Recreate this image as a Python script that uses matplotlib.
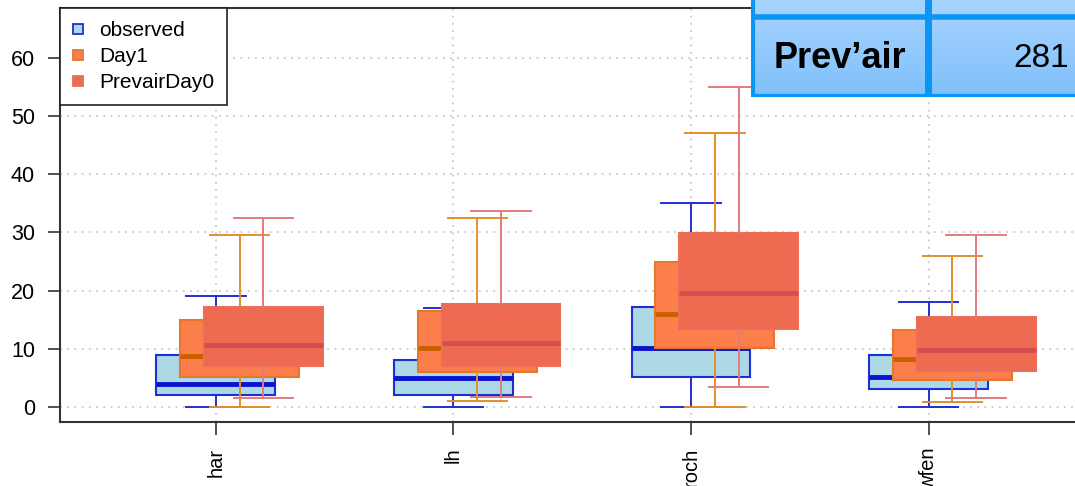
import matplotlib
matplotlib.use('Agg')
import matplotlib.pyplot as plt
import numpy as np
from matplotlib.lines import Line2D

plt.rcParams['font.family'] = ['Liberation Sans', 'DejaVu Sans']

# --- data ---
sites = ['har', 'lh', 'roch', 'wfen']
series = ['observed', 'Day1', 'PrevairDay0']

# whisker low, q1, median, q3, whisker high per site
obs_low = [0.0, 0.0, 0.0, 0.0]
obs_q1 = [2.0, 2.0, 5.1, 3.1]
obs_med = [4.0, 5.0, 10.1, 5.2]
obs_q3 = [9.0, 8.0, 17.1, 9.0]
obs_high = [19.0, 17.0, 35.0, 18.0]

day1_low = [0.0, 1.0, 0.0, 0.9]
day1_q1 = [5.2, 6.0, 10.2, 4.6]
day1_med = [8.8, 10.1, 16.0, 8.2]
day1_q3 = [15.0, 16.5, 24.9, 13.2]
day1_high = [29.5, 32.5, 47.0, 26.0]

prev_low = [1.6, 1.7, 3.5, 1.6]
prev_q1 = [7.0, 7.1, 13.4, 6.2]
prev_med = [10.7, 11.0, 19.6, 9.8]
prev_q3 = [17.2, 17.7, 29.9, 15.5]
prev_high = [32.5, 33.7, 55.0, 29.5]

table_label = 'Prev\u2019air'
table_value = '281'

fig = plt.figure(figsize=(10.75, 4.86), dpi=100)
W, H = 1075, 486
ax = fig.add_axes([60 / W, (H - 422) / H, (1095 - 60) / W, (422 - 8) / H])

styles = [
    dict(face='#add8e6', edge='#1f2fd6', whisk='#1f2fd6', med='#0a14d0'),
    dict(face='#fb7e4b', edge='#e5782c', whisk='#e0902e', med='#cc5f00'),
    dict(face='#ee6a50', edge='#e8705a', whisk='#e27a80', med='#d24f50'),
]
all_stats = [
    (obs_low, obs_q1, obs_med, obs_q3, obs_high),
    (day1_low, day1_q1, day1_med, day1_q3, day1_high),
    (prev_low, prev_q1, prev_med, prev_q3, prev_high),
]
pos = np.arange(1, len(sites) + 1)
offsets = [0.0, 0.1, 0.2]

for k, (st, sty) in enumerate(zip(all_stats, styles)):
    stats = []
    for i in range(len(sites)):
        stats.append(dict(whislo=st[0][i], q1=st[1][i], med=st[2][i],
                          q3=st[3][i], whishi=st[4][i], fliers=[]))
    z = 3 + k
    ax.bxp(stats, positions=pos + offsets[k], widths=0.5, patch_artist=True,
           showfliers=False, manage_ticks=False,
           boxprops=dict(facecolor=sty['face'], edgecolor=sty['edge'], linewidth=1.5, zorder=z),
           whiskerprops=dict(color=sty['whisk'], linewidth=1.4, zorder=z),
           capprops=dict(color=sty['whisk'], linewidth=1.4, zorder=z),
           medianprops=dict(color=sty['med'], linewidth=3.5, zorder=z + 0.1),
           capwidths=0.25)

ax.set_xlim(0.344, 4.7)
ax.set_ylim(-2.58, 68.56)
ax.set_yticks(range(0, 61, 10))
ax.set_xticks(pos)
ax.set_xticklabels(sites, rotation=90)
ax.tick_params(axis='both', direction='out', length=9, width=1.2, color='#333333')
ax.tick_params(axis='y', labelsize=15.5, pad=9)
ax.tick_params(axis='x', labelsize=14.5, pad=9.5)
ax.grid(True, linestyle=(0, (1, 3)), color='#c8c8c8', linewidth=1.3, zorder=0)
ax.set_axisbelow(True)
for s in ax.spines.values():
    s.set_color('#333333')
    s.set_linewidth(1.5)

handles = [Line2D([], [], linestyle='none', marker='s', markersize=6.5,
                  markerfacecolor=sty['face'], markeredgecolor=sty['edge'],
                  markeredgewidth=1.3) for sty in styles]
leg = ax.legend(handles, series, loc='upper left', borderaxespad=0, fontsize=15,
                frameon=True, fancybox=False, edgecolor='#222222', framealpha=1,
                handletextpad=0.75, labelspacing=0.34, borderpad=0.62, handlelength=0.5)
leg.get_frame().set_linewidth(1.2)
leg.set_zorder(10)

# table fragment in the top right corner
tax = fig.add_axes([751 / W, (H - 97) / H, (W - 751) / W, 97 / H])
grad = np.linspace(0, 1, 100).reshape(-1, 1)
tax.imshow(grad, cmap=matplotlib.colors.LinearSegmentedColormap.from_list('g', ['#a8d4ff', '#7fc0fb']),
           aspect='auto', extent=[0, W - 751, 97, 0])
tax.set_xlim(0, W - 751)
tax.set_ylim(97, 0)
tax.axis('off')
bl = '#0a96f5'
tax.plot([1.5, 1.5], [0, 95.5], color=bl, linewidth=3)
tax.plot([0, W - 751], [95.5, 95.5], color=bl, linewidth=3)
tax.plot([0, W - 751], [17.5, 17.5], color=bl, linewidth=4)
tax.plot([177, 177], [0, 97], color=bl, linewidth=5)
tax.text(89, 58, table_label, ha='center', va='center', fontsize=26, fontweight='bold', color='black')
tax.text(262, 58, table_value, ha='left', va='center', fontsize=24, color='black')

fig.savefig('out.png', dpi=100)
